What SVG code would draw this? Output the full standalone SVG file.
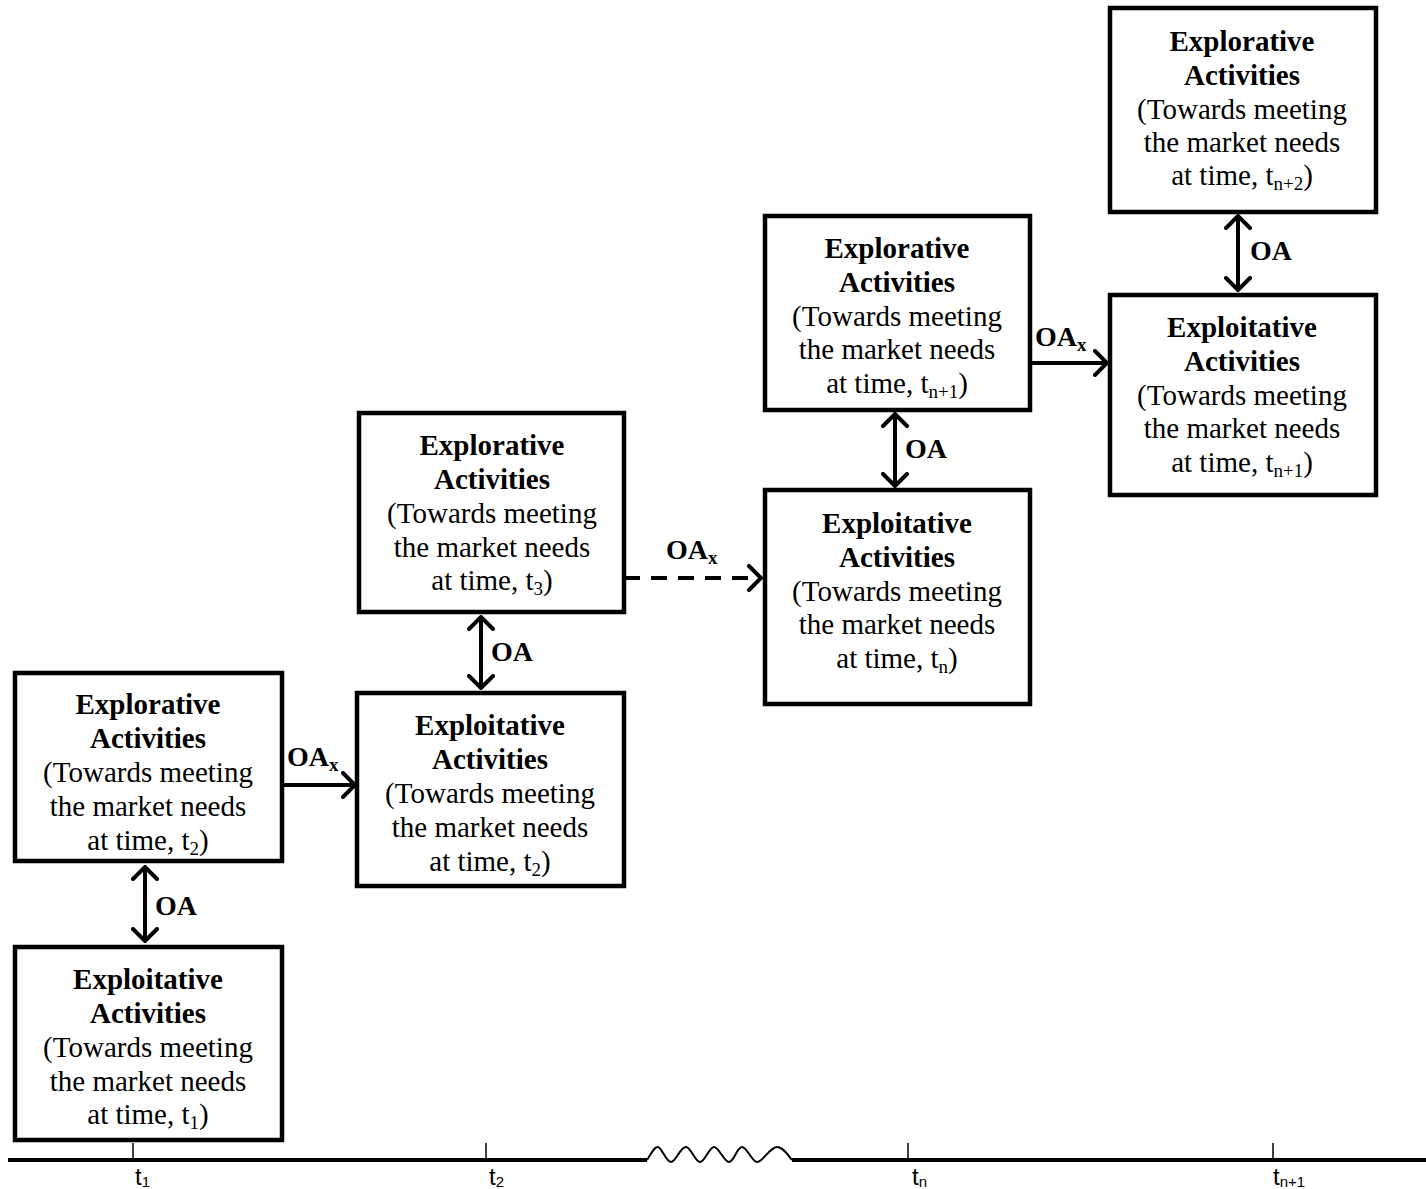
<svg xmlns="http://www.w3.org/2000/svg" width="1426" height="1189" viewBox="0 0 1426 1189">
<style>
.box{fill:#fff;stroke:#000;stroke-width:4.5}
.t{font-family:"Liberation Serif","Times New Roman",serif;font-size:29px;text-anchor:middle;fill:#000}
.b{font-weight:bold}
.lbl{font-family:"Liberation Serif","Times New Roman",serif;font-size:28px;font-weight:bold;fill:#000}
.sub{font-size:19px}
.conn{stroke:#000;stroke-width:4;fill:none}
.ax{font-family:"Liberation Sans",Arial,sans-serif;font-size:24px;fill:#000}
</style>
<defs>
<marker id="ah" viewBox="0 0 16 28" refX="14" refY="14" markerWidth="16" markerHeight="28" markerUnits="userSpaceOnUse" orient="auto-start-reverse">
<path d="M2,2 L14,14 L2,26" fill="none" stroke="#000" stroke-width="4" stroke-linecap="round"/>
</marker>
</defs>
<rect width="1426" height="1189" fill="#fff"/>

<g id="nodeA">
<rect class="box" x="15" y="673" width="267" height="188"/>
<text class="t b" x="148" y="714">Explorative</text>
<text class="t b" x="148" y="748">Activities</text>
<text class="t" x="148" y="782">(Towards meeting</text>
<text class="t" x="148" y="816">the market needs</text>
<text class="t" x="148" y="850">at time, t<tspan class="sub" dy="5">2</tspan><tspan dy="-5">)</tspan></text>
</g>
<g id="nodeB">
<rect class="box" x="15" y="947" width="267" height="193"/>
<text class="t b" x="148" y="989">Exploitative</text>
<text class="t b" x="148" y="1023">Activities</text>
<text class="t" x="148" y="1057">(Towards meeting</text>
<text class="t" x="148" y="1091">the market needs</text>
<text class="t" x="148" y="1124">at time, t<tspan class="sub" dy="5">1</tspan><tspan dy="-5">)</tspan></text>
</g>
<g id="nodeC">
<rect class="box" x="357" y="693" width="267" height="193"/>
<text class="t b" x="490" y="735">Exploitative</text>
<text class="t b" x="490" y="769">Activities</text>
<text class="t" x="490" y="803">(Towards meeting</text>
<text class="t" x="490" y="837">the market needs</text>
<text class="t" x="490" y="871">at time, t<tspan class="sub" dy="5">2</tspan><tspan dy="-5">)</tspan></text>
</g>
<g id="nodeD">
<rect class="box" x="359" y="413" width="265" height="199"/>
<text class="t b" x="492" y="455">Explorative</text>
<text class="t b" x="492" y="489">Activities</text>
<text class="t" x="492" y="523">(Towards meeting</text>
<text class="t" x="492" y="557">the market needs</text>
<text class="t" x="492" y="590">at time, t<tspan class="sub" dy="5">3</tspan><tspan dy="-5">)</tspan></text>
</g>
<g id="nodeE">
<rect class="box" x="765" y="490" width="265" height="214"/>
<text class="t b" x="897" y="533">Exploitative</text>
<text class="t b" x="897" y="567">Activities</text>
<text class="t" x="897" y="601">(Towards meeting</text>
<text class="t" x="897" y="634">the market needs</text>
<text class="t" x="897" y="668">at time, t<tspan class="sub" dy="5">n</tspan><tspan dy="-5">)</tspan></text>
</g>
<g id="nodeF">
<rect class="box" x="765" y="216" width="265" height="194"/>
<text class="t b" x="897" y="258">Explorative</text>
<text class="t b" x="897" y="292">Activities</text>
<text class="t" x="897" y="326">(Towards meeting</text>
<text class="t" x="897" y="359">the market needs</text>
<text class="t" x="897" y="393">at time, t<tspan class="sub" dy="5">n+1</tspan><tspan dy="-5">)</tspan></text>
</g>
<g id="nodeG">
<rect class="box" x="1110" y="295" width="266" height="200"/>
<text class="t b" x="1242" y="337">Exploitative</text>
<text class="t b" x="1242" y="371">Activities</text>
<text class="t" x="1242" y="405">(Towards meeting</text>
<text class="t" x="1242" y="438">the market needs</text>
<text class="t" x="1242" y="472">at time, t<tspan class="sub" dy="5">n+1</tspan><tspan dy="-5">)</tspan></text>
</g>
<g id="nodeH">
<rect class="box" x="1110" y="8" width="266" height="204"/>
<text class="t b" x="1242" y="51">Explorative</text>
<text class="t b" x="1242" y="85">Activities</text>
<text class="t" x="1242" y="119">(Towards meeting</text>
<text class="t" x="1242" y="152">the market needs</text>
<text class="t" x="1242" y="185">at time, t<tspan class="sub" dy="5">n+2</tspan><tspan dy="-5">)</tspan></text>
</g>

<g id="connectors">
<line class="conn" x1="145" y1="867" x2="145" y2="941" marker-start="url(#ah)" marker-end="url(#ah)"/>
<text class="lbl" x="155" y="915">OA</text>
<line class="conn" x1="282" y1="785" x2="355" y2="785" marker-end="url(#ah)"/>
<text class="lbl" x="287" y="766">OA<tspan class="sub" dy="5">x</tspan></text>
<line class="conn" x1="481" y1="617" x2="481" y2="688" marker-start="url(#ah)" marker-end="url(#ah)"/>
<text class="lbl" x="491" y="661">OA</text>
<line class="conn" x1="624" y1="578" x2="761" y2="578" stroke-dasharray="16,11" marker-end="url(#ah)"/>
<text class="lbl" x="666" y="559">OA<tspan class="sub" dy="5">x</tspan></text>
<line class="conn" x1="895" y1="414" x2="895" y2="486" marker-start="url(#ah)" marker-end="url(#ah)"/>
<text class="lbl" x="905" y="458">OA</text>
<line class="conn" x1="1030" y1="363" x2="1107" y2="363" marker-end="url(#ah)"/>
<text class="lbl" x="1035" y="346">OA<tspan class="sub" dy="5">x</tspan></text>
<line class="conn" x1="1238" y1="216" x2="1238" y2="290" marker-start="url(#ah)" marker-end="url(#ah)"/>
<text class="lbl" x="1250" y="260">OA</text>
</g>

<g id="axis">
<line x1="8" y1="1160" x2="647" y2="1160" stroke="#000" stroke-width="4"/>
<line x1="792" y1="1160" x2="1426" y2="1160" stroke="#000" stroke-width="4"/>
<path d="M647,1160 C652,1152 655,1146 658,1147 C662,1148 666,1162 671,1162 C676,1162 680,1147 686,1147 C691,1147 695,1162 700,1162 C705,1162 709,1147 714,1147 C719,1147 724,1162 729,1162 C734,1162 737,1147 742,1147 C747,1147 752,1162 757,1162 C763,1162 770,1147 777,1147 C783,1147 788,1155 792,1160" fill="none" stroke="#000" stroke-width="2"/>
<line x1="133" y1="1143" x2="133" y2="1160" stroke="#000" stroke-width="1.5"/>
<line x1="486" y1="1143" x2="486" y2="1160" stroke="#000" stroke-width="1.5"/>
<line x1="908" y1="1143" x2="908" y2="1160" stroke="#000" stroke-width="1.5"/>
<line x1="1273" y1="1143" x2="1273" y2="1160" stroke="#000" stroke-width="1.5"/>
<text class="ax" x="135" y="1185">t<tspan font-size="15" dy="2">1</tspan></text>
<text class="ax" x="489" y="1185">t<tspan font-size="15" dy="2">2</tspan></text>
<text class="ax" x="912" y="1185">t<tspan font-size="15" dy="2">n</tspan></text>
<text class="ax" x="1273" y="1185">t<tspan font-size="15" dy="2">n+1</tspan></text>
</g>
</svg>
